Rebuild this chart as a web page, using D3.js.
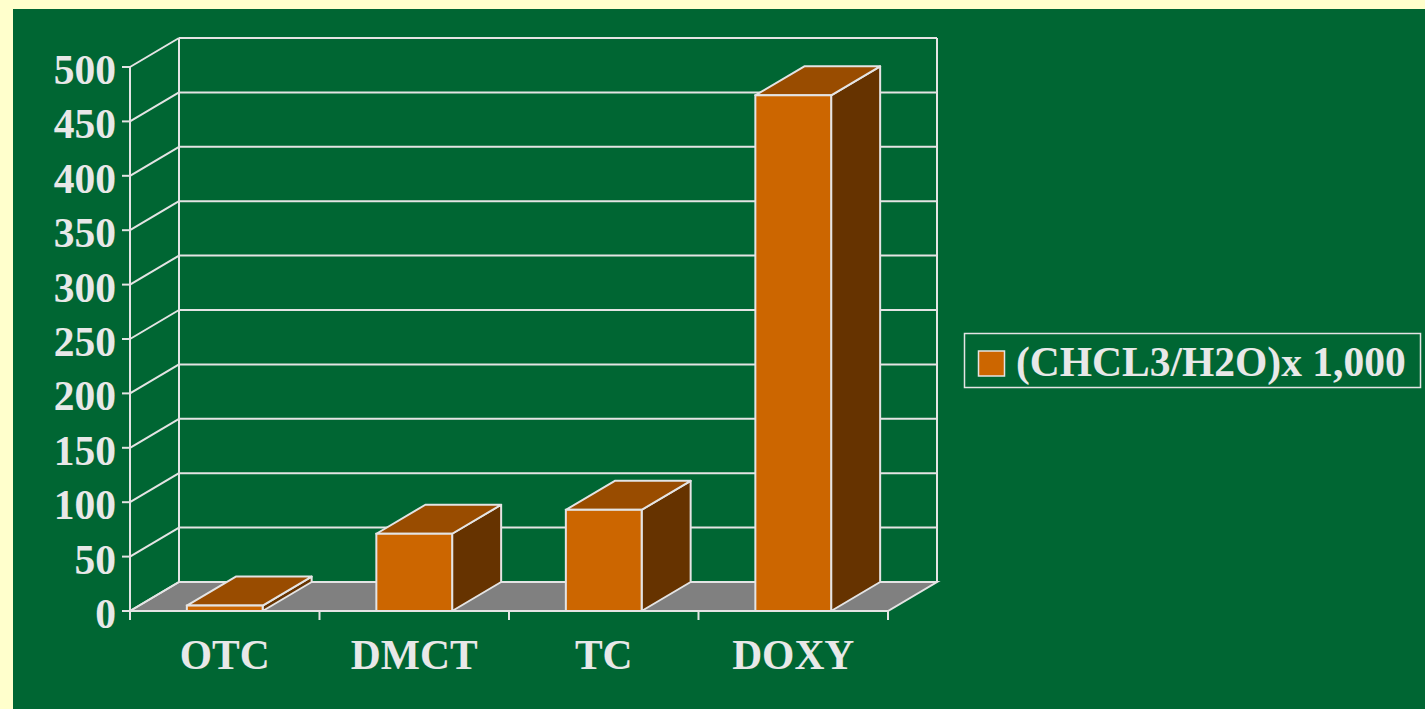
<!DOCTYPE html>
<html>
<head>
<meta charset="utf-8">
<script src="https://cdn.jsdelivr.net/npm/d3@7"></script>
<style>
  html, body { margin: 0; padding: 0; background: #FFFFCC; }
  svg { display: block; }
</style>
</head>
<body>
<svg id="chart" width="1425" height="709"></svg>
<script>
// chart data
var categories = ['OTC', 'DMCT', 'TC', 'DOXY'];
var values = [5, 71, 93, 474];
var yTicks = [0, 50, 100, 150, 200, 250, 300, 350, 400, 450, 500];
var seriesName = '(CHCL3/H2O)x 1,000';

var W = 1425, H = 709;
var lineCol = '#E4E4E4', textCol = '#E8E8E8';
var font = '"Liberation Serif", "Times New Roman", serif';
var fs = 41.5;

var svg = d3.select('#chart');

// green panel, pale yellow shows at left/top
svg.append('rect').attr('x', 13).attr('y', 9).attr('width', W - 13).attr('height', H - 9).attr('fill', '#006633');

var x = d3.scaleBand().domain(categories).range([130, 888]).paddingInner(0.6).paddingOuter(0.3);
var y = d3.scaleLinear().domain([0, 500]).range([611, 67]);
var dx = 49, dy = -29; // depth offset of the 3d box

var x0 = x.range()[0], x1 = x.range()[1];

var g = svg.append('g');

// floor
g.append('path')
    .attr('d', 'M' + x0 + ',' + y(0) + 'L' + x1 + ',' + y(0) + 'L' + (x1 + dx) + ',' + (y(0) + dy) + 'L' + (x0 + dx) + ',' + (y(0) + dy) + 'Z')
    .attr('fill', '#808080').attr('stroke', lineCol).attr('stroke-width', 2);

// back wall grid + side wall diagonals
g.selectAll('line.grid').data(yTicks).enter().append('line').attr('class', 'grid')
    .attr('x1', x0 + dx).attr('x2', x1 + dx)
    .attr('y1', function (d) { return y(d) + dy; }).attr('y2', function (d) { return y(d) + dy; })
    .attr('stroke', lineCol).attr('stroke-width', 2);
g.selectAll('line.side').data(yTicks).enter().append('line').attr('class', 'side')
    .attr('x1', x0).attr('x2', x0 + dx)
    .attr('y1', function (d) { return y(d); }).attr('y2', function (d) { return y(d) + dy; })
    .attr('stroke', lineCol).attr('stroke-width', 2);
[x0 + dx, x1 + dx].forEach(function (xx) {
    g.append('line').attr('x1', xx).attr('x2', xx).attr('y1', y(0) + dy).attr('y2', y(500) + dy)
        .attr('stroke', lineCol).attr('stroke-width', 2);
});

// bars
var data = categories.map(function (c, i) { return { cat: c, v: values[i] }; });
var bars = g.selectAll('g.bar').data(data).enter().append('g').attr('class', 'bar');
bars.each(function (d) {
    var b = d3.select(this);
    var l = x(d.cat), r = x(d.cat) + x.bandwidth(), t = y(d.v), bt = y(0);
    b.append('path')
        .attr('d', 'M' + r + ',' + bt + 'L' + (r + dx) + ',' + (bt + dy) + 'L' + (r + dx) + ',' + (t + dy) + 'L' + r + ',' + t + 'Z')
        .attr('fill', '#663300').attr('stroke', lineCol).attr('stroke-width', 2).attr('stroke-linejoin', 'round');
    b.append('path')
        .attr('d', 'M' + l + ',' + t + 'L' + r + ',' + t + 'L' + (r + dx) + ',' + (t + dy) + 'L' + (l + dx) + ',' + (t + dy) + 'Z')
        .attr('fill', '#994C00').attr('stroke', lineCol).attr('stroke-width', 2).attr('stroke-linejoin', 'round');
    b.append('rect')
        .attr('x', l).attr('y', t).attr('width', r - l).attr('height', bt - t)
        .attr('fill', '#CC6600').attr('stroke', lineCol).attr('stroke-width', 2);
});

// front axes
g.append('line').attr('x1', x0).attr('x2', x0).attr('y1', y(500)).attr('y2', y(0)).attr('stroke', lineCol).attr('stroke-width', 2);
g.append('line').attr('x1', x0).attr('x2', x1).attr('y1', y(0)).attr('y2', y(0)).attr('stroke', lineCol).attr('stroke-width', 2);

// y ticks + labels
g.selectAll('line.ytick').data(yTicks).enter().append('line').attr('class', 'ytick')
    .attr('x1', x0 - 8).attr('x2', x0).attr('y1', function (d) { return y(d); }).attr('y2', function (d) { return y(d); })
    .attr('stroke', lineCol).attr('stroke-width', 2);
g.selectAll('text.ylab').data(yTicks).enter().append('text').attr('class', 'ylab')
    .attr('x', 116).attr('y', function (d) { return y(d) + 17; })
    .attr('text-anchor', 'end').attr('font-family', font).attr('font-weight', 'bold').attr('font-size', fs)
    .attr('fill', textCol).text(function (d) { return d; });

// category ticks + labels
var step = x.step();
var xTickPos = d3.range(categories.length + 1).map(function (i) { return x0 + i * step; });
g.selectAll('line.xtick').data(xTickPos).enter().append('line').attr('class', 'xtick')
    .attr('x1', function (d) { return d; }).attr('x2', function (d) { return d; })
    .attr('y1', y(0)).attr('y2', y(0) + 9)
    .attr('stroke', lineCol).attr('stroke-width', 2);
g.selectAll('text.xlab').data(categories).enter().append('text').attr('class', 'xlab')
    .attr('x', function (d) { return x(d) + x.bandwidth() / 2; }).attr('y', 669)
    .attr('text-anchor', 'middle').attr('font-family', font).attr('font-weight', 'bold').attr('font-size', fs)
    .attr('fill', textCol).text(function (d) { return d; });

// legend
var lg = svg.append('g');
lg.append('rect').attr('x', 964.5).attr('y', 333.5).attr('width', 456).attr('height', 54)
    .attr('fill', 'none').attr('stroke', lineCol).attr('stroke-width', 1.5);
lg.append('rect').attr('x', 978.5).attr('y', 351).attr('width', 26).attr('height', 25)
    .attr('fill', '#CC6600').attr('stroke', lineCol).attr('stroke-width', 1.5);
lg.append('text').attr('x', 1016).attr('y', 376)
    .attr('font-family', font).attr('font-weight', 'bold').attr('font-size', fs)
    .attr('fill', textCol).text(seriesName);
</script>
</body>
</html>
